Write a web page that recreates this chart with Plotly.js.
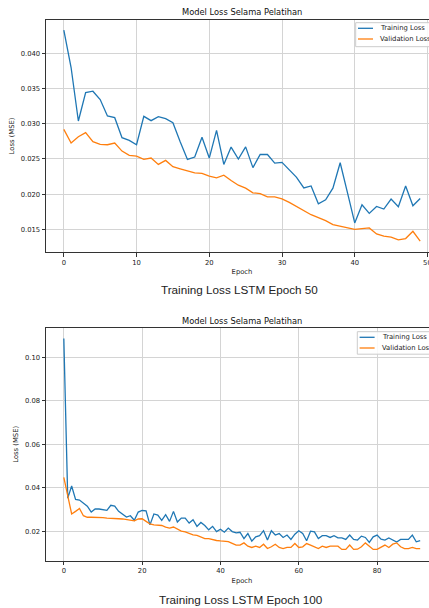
<!DOCTYPE html>
<html>
<head>
<meta charset="utf-8">
<script src="https://cdn.plot.ly/plotly-3.0.1.min.js"></script>
<style>
html,body{margin:0;padding:0;background:#fff;overflow:hidden;}
#chart{width:445px;height:608px;}
</style>
</head>
<body>
<div id="chart"></div>
<script>
// ---- data ----
const seriesNames = ['Training Loss', 'Validation Loss'];
const seriesColors = ['#1f77b4', '#ff7f0e'];
const chartTitle = 'Model Loss Selama Pelatihan';
const captions = ['Training Loss LSTM Epoch 50', 'Training Loss LSTM Epoch 100'];

const trainLoss50 = [0.04327,0.03796,0.03038,0.03441,0.03460,0.03341,0.03109,0.03085,0.02801,0.02763,
  0.02701,0.03104,0.03043,0.03100,0.03071,0.03014,0.02744,0.02493,0.02526,0.02806,
  0.02512,0.02905,0.02422,0.02668,0.02498,0.02671,0.02376,0.02563,0.02563,0.02441,
  0.02451,0.02347,0.02239,0.02089,0.02117,0.01864,0.01920,0.02085,0.02446,0.02023,
  0.01592,0.01850,0.01728,0.01826,0.01789,0.01930,0.01822,0.02117,0.01836,0.01939];
const valLoss50 = [0.02919,0.02725,0.02815,0.02872,0.02744,0.02706,0.02701,0.02725,0.02611,0.02550,
  0.02540,0.02493,0.02512,0.02422,0.02479,0.02389,0.02360,0.02327,0.02303,0.02294,
  0.02256,0.02232,0.02270,0.02194,0.02127,0.02085,0.02019,0.02009,0.01962,0.01962,
  0.01934,0.01883,0.01822,0.01761,0.01709,0.01667,0.01624,0.01568,0.01549,0.01526,
  0.01502,0.01512,0.01521,0.01437,0.01404,0.01390,0.01352,0.01371,0.01474,0.01333];

const trainLoss100 = [0.1087,0.0352,0.0408,0.0346,0.0343,0.0330,0.0315,0.0288,0.0302,0.0302,
  0.0299,0.0296,0.0319,0.0315,0.0291,0.0276,0.0265,0.0271,0.0250,0.0288,
  0.0295,0.0293,0.0229,0.0279,0.0274,0.0250,0.0276,0.0245,0.0291,0.0242,
  0.0260,0.0260,0.0237,0.0253,0.0222,0.0240,0.0226,0.0206,0.0222,0.0198,
  0.0209,0.0195,0.0214,0.0198,0.0192,0.0195,0.0166,0.0189,0.0154,0.0174,
  0.0179,0.0202,0.0159,0.0202,0.0182,0.0189,0.0171,0.0182,0.0162,0.0186,
  0.0202,0.0189,0.0156,0.0200,0.0197,0.0166,0.0179,0.0179,0.0171,0.0179,
  0.0169,0.0169,0.0162,0.0182,0.0162,0.0159,0.0177,0.0171,0.0148,0.0174,
  0.0182,0.0163,0.0159,0.0169,0.0159,0.0150,0.0162,0.0163,0.0162,0.0182,
  0.0151,0.0156];
const valLoss100 = [0.0448,0.0355,0.0279,0.0291,0.0304,0.0271,0.0264,0.0264,0.0264,0.0264,
  0.0262,0.0260,0.0260,0.0259,0.0257,0.0256,0.0253,0.0253,0.0247,0.0256,
  0.0257,0.0245,0.0233,0.0229,0.0229,0.0226,0.0219,0.0214,0.0219,0.0209,
  0.0200,0.0197,0.0191,0.0183,0.0181,0.0175,0.0166,0.0166,0.0160,0.0157,
  0.0155,0.0152,0.0152,0.0144,0.0136,0.0136,0.0146,0.0131,0.0125,0.0131,
  0.0125,0.0140,0.0120,0.0128,0.0140,0.0125,0.0120,0.0125,0.0125,0.0143,
  0.0125,0.0128,0.0143,0.0136,0.0128,0.0120,0.0131,0.0125,0.0131,0.0131,
  0.0131,0.0116,0.0116,0.0136,0.0116,0.0117,0.0128,0.0146,0.0131,0.0116,
  0.0116,0.0125,0.0136,0.0125,0.0140,0.0146,0.0128,0.0120,0.0120,0.0125,
  0.0120,0.0120];

// ---- layout helpers ----
const W = 445, H = 608, ML = 46, MR = 7;
const px = p => (p - ML) / (W - ML - MR);
const py = p => 1 - p / H;

const FONT = 'DejaVu Sans, sans-serif';
const tickFont = {family: FONT, size: 6.8, color: '#222'};

function xAxis(range, dtick, anchor) {
  return {
    domain: [0, 1], anchor: anchor, range: range, dtick: dtick, tick0: 0,
    showgrid: true, gridcolor: '#d4d4d4', gridwidth: 1, zeroline: false,
    showline: true, linecolor: '#333', linewidth: 1, mirror: true,
    ticks: 'outside', ticklen: 3.5, tickwidth: 1, tickcolor: '#333',
    tickfont: tickFont, automargin: false,
    title: {text: 'Epoch', font: {family: FONT, size: 6.8, color: '#222'}, standoff: 3}
  };
}
function yAxis(domain, range, dtick, fmt, anchor) {
  return {
    domain: domain, anchor: anchor, range: range, dtick: dtick, tick0: 0, tickformat: fmt,
    showgrid: true, gridcolor: '#d4d4d4', gridwidth: 1, zeroline: false,
    showline: true, linecolor: '#333', linewidth: 1, mirror: true,
    ticks: 'outside', ticklen: 3.5, tickwidth: 1, tickcolor: '#333',
    tickfont: tickFont, automargin: false,
    title: {text: 'Loss (MSE)', font: {family: FONT, size: 6.8, color: '#222'}, standoff: 5}
  };
}

const traces = [
  {y: trainLoss50, xaxis: 'x', yaxis: 'y', name: seriesNames[0], type: 'scatter', mode: 'lines',
   line: {color: seriesColors[0], width: 1.3}},
  {y: valLoss50, xaxis: 'x', yaxis: 'y', name: seriesNames[1], type: 'scatter', mode: 'lines',
   line: {color: seriesColors[1], width: 1.3}},
  {y: trainLoss100, xaxis: 'x2', yaxis: 'y2', name: seriesNames[0], type: 'scatter', mode: 'lines',
   line: {color: seriesColors[0], width: 1.3}},
  {y: valLoss100, xaxis: 'x2', yaxis: 'y2', name: seriesNames[1], type: 'scatter', mode: 'lines',
   line: {color: seriesColors[1], width: 1.3}}
];

const annotations = [];
const shapes = [];

// titles and captions
[[12, 0.5], [320.7, 0.5]].forEach(function (t) {
  annotations.push({text: chartTitle, xref: 'paper', yref: 'paper', x: t[1], y: py(t[0]),
    xanchor: 'center', yanchor: 'middle', showarrow: false,
    font: {family: FONT, size: 8.3, color: '#111'}});
});
[[289, 239.5], [599, 241]].forEach(function (c, i) {
  annotations.push({text: captions[i], xref: 'paper', yref: 'paper', x: px(c[1]), y: py(c[0]),
    xanchor: 'center', yanchor: 'middle', showarrow: false,
    font: {family: 'Liberation Sans, Arial, sans-serif', size: 11.7, color: '#222'}});
});

// legends (matplotlib-style, compact)
[[355.7, 22.7, 24], [357.3, 331.7, 22.5]].forEach(function (lg) {
  const left = lg[0], top = lg[1], h = lg[2];
  shapes.push({type: 'rect', xref: 'paper', yref: 'paper', x0: px(left), x1: px(434),
    y0: py(top + h), y1: py(top), line: {color: '#cccccc', width: 1},
    fillcolor: 'rgba(255,255,255,0.85)', layer: 'above'});
  seriesNames.forEach(function (nm, k) {
    const yy = top + 5.6 + k * 10.7;
    shapes.push({type: 'line', xref: 'paper', yref: 'paper', x0: px(left + 2.3), x1: px(left + 17.3),
      y0: py(yy), y1: py(yy), line: {color: seriesColors[k], width: 1.3}, layer: 'above'});
    annotations.push({text: nm, xref: 'paper', yref: 'paper', x: px(left + 22.5), y: py(yy),
      xanchor: 'left', yanchor: 'middle', showarrow: false,
      font: {family: FONT, size: 6.8, color: '#222'}});
  });
});

const layout = {
  width: W, height: H,
  margin: {l: ML, r: MR, t: 0, b: 0, pad: 0},
  paper_bgcolor: '#fff', plot_bgcolor: '#fff',
  showlegend: false,
  xaxis: xAxis([-2.45, 51.45], 10, 'y'),
  yaxis: yAxis([py(252), py(20)], [0.0118, 0.0447], 0.005, '.3f', 'x'),
  xaxis2: xAxis([-4.55, 95.55], 20, 'y2'),
  yaxis2: yAxis([py(560.7), py(328)], [0.0064, 0.1135], 0.02, '.2f', 'x2'),
  annotations: annotations,
  shapes: shapes
};

Plotly.newPlot('chart', traces, layout, {staticPlot: true, displayModeBar: false});
</script>
</body>
</html>
